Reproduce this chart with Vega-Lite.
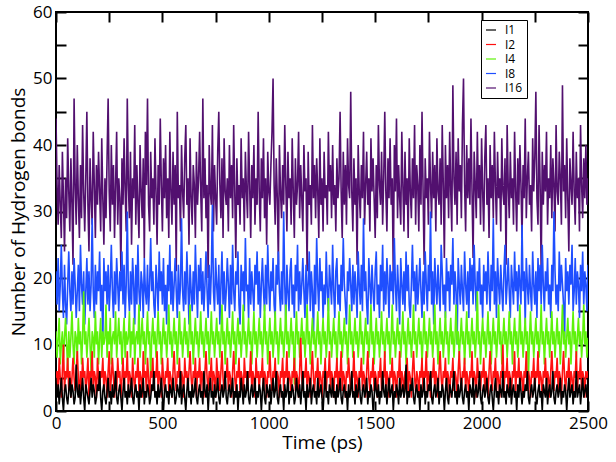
{
"$schema":"https://vega.github.io/schema/vega-lite/v6.json",
"width":532,"height":399,
"autosize":"none",
"padding":{"left":56,"top":12,"right":28,"bottom":51},
"background":"white",
"config":{"view":{"stroke":"black","strokeWidth":2},"font":"Open Sans"},
"data":{"values":[
{"t":0,"a":3,"b":5,"c":12,"d":21,"e":44},
{"t":5,"a":2,"b":6,"c":8,"d":16,"e":34},
{"t":10,"a":4,"b":3,"c":11,"d":23,"e":28},
{"t":15,"a":1,"b":8,"c":14,"d":15,"e":37},
{"t":20,"a":3,"b":5,"c":7,"d":19,"e":31},
{"t":25,"a":5,"b":2,"c":10,"d":25,"e":26},
{"t":30,"a":2,"b":6,"c":12,"d":18,"e":39},
{"t":35,"a":0,"b":10,"c":8,"d":14,"e":32},
{"t":40,"a":3,"b":3,"c":11,"d":22,"e":24},
{"t":45,"a":4,"b":6,"c":14,"d":16,"e":35},
{"t":50,"a":2,"b":5,"c":10,"d":13,"e":29},
{"t":55,"a":1,"b":8,"c":6,"d":19,"e":41},
{"t":60,"a":3,"b":3,"c":12,"d":24,"e":33},
{"t":65,"a":5,"b":6,"c":8,"d":18,"e":27},
{"t":70,"a":2,"b":2,"c":11,"d":15,"e":38},
{"t":75,"a":4,"b":5,"c":15,"d":21,"e":31},
{"t":80,"a":3,"b":8,"c":10,"d":16,"e":22},
{"t":85,"a":1,"b":5,"c":7,"d":23,"e":47},
{"t":90,"a":2,"b":3,"c":12,"d":19,"e":34},
{"t":95,"a":7,"b":6,"c":11,"d":14,"e":28},
{"t":100,"a":3,"b":9,"c":8,"d":18,"e":40},
{"t":105,"a":2,"b":5,"c":14,"d":22,"e":32},
{"t":110,"a":4,"b":2,"c":10,"d":15,"e":26},
{"t":115,"a":1,"b":6,"c":12,"d":25,"e":37},
{"t":120,"a":3,"b":3,"c":7,"d":19,"e":29},
{"t":125,"a":5,"b":8,"c":11,"d":16,"e":43},
{"t":130,"a":2,"b":5,"c":18,"d":21,"e":33},
{"t":135,"a":0,"b":6,"c":10,"d":13,"e":27},
{"t":140,"a":4,"b":3,"c":12,"d":18,"e":35},
{"t":145,"a":3,"b":5,"c":8,"d":23,"e":45},
{"t":150,"a":2,"b":8,"c":11,"d":16,"e":31},
{"t":155,"a":1,"b":2,"c":14,"d":21,"e":24},
{"t":160,"a":3,"b":6,"c":10,"d":15,"e":38},
{"t":165,"a":5,"b":5,"c":6,"d":19,"e":32},
{"t":170,"a":2,"b":9,"c":12,"d":29,"e":28},
{"t":175,"a":4,"b":3,"c":11,"d":18,"e":42},
{"t":180,"a":3,"b":6,"c":8,"d":14,"e":34},
{"t":185,"a":1,"b":5,"c":15,"d":22,"e":26},
{"t":190,"a":2,"b":2,"c":10,"d":16,"e":37},
{"t":195,"a":4,"b":8,"c":12,"d":21,"e":31},
{"t":200,"a":3,"b":5,"c":7,"d":18,"e":39},
{"t":205,"a":6,"b":3,"c":11,"d":24,"e":33},
{"t":210,"a":2,"b":6,"c":14,"d":15,"e":27},
{"t":215,"a":0,"b":5,"c":8,"d":19,"e":41},
{"t":220,"a":3,"b":8,"c":12,"d":10,"e":32},
{"t":225,"a":4,"b":3,"c":10,"d":23,"e":25},
{"t":230,"a":2,"b":6,"c":11,"d":18,"e":35},
{"t":235,"a":1,"b":5,"c":16,"d":21,"e":29},
{"t":240,"a":3,"b":2,"c":8,"d":16,"e":38},
{"t":245,"a":5,"b":6,"c":12,"d":22,"e":47},
{"t":250,"a":2,"b":9,"c":10,"d":15,"e":33},
{"t":255,"a":3,"b":3,"c":14,"d":19,"e":27},
{"t":260,"a":1,"b":5,"c":7,"d":25,"e":40},
{"t":265,"a":4,"b":8,"c":11,"d":18,"e":31},
{"t":270,"a":2,"b":5,"c":12,"d":14,"e":37},
{"t":275,"a":3,"b":2,"c":10,"d":21,"e":26},
{"t":280,"a":6,"b":6,"c":15,"d":16,"e":34},
{"t":285,"a":2,"b":3,"c":8,"d":23,"e":42},
{"t":290,"a":1,"b":8,"c":11,"d":19,"e":28},
{"t":295,"a":3,"b":5,"c":14,"d":15,"e":35},
{"t":300,"a":4,"b":6,"c":10,"d":21,"e":32},
{"t":305,"a":2,"b":2,"c":12,"d":18,"e":21},
{"t":310,"a":0,"b":5,"c":7,"d":24,"e":38},
{"t":315,"a":3,"b":8,"c":11,"d":16,"e":31},
{"t":320,"a":5,"b":3,"c":14,"d":22,"e":41},
{"t":325,"a":2,"b":6,"c":8,"d":14,"e":33},
{"t":330,"a":3,"b":5,"c":12,"d":19,"e":27},
{"t":335,"a":1,"b":9,"c":10,"d":30,"e":47},
{"t":340,"a":4,"b":3,"c":11,"d":18,"e":34},
{"t":345,"a":2,"b":6,"c":15,"d":15,"e":29},
{"t":350,"a":3,"b":5,"c":8,"d":21,"e":39},
{"t":355,"a":5,"b":2,"c":12,"d":16,"e":25},
{"t":360,"a":2,"b":8,"c":10,"d":23,"e":35},
{"t":365,"a":1,"b":5,"c":14,"d":19,"e":32},
{"t":370,"a":3,"b":3,"c":7,"d":13,"e":43},
{"t":375,"a":4,"b":6,"c":11,"d":22,"e":28},
{"t":380,"a":2,"b":5,"c":12,"d":16,"e":37},
{"t":385,"a":3,"b":8,"c":10,"d":25,"e":31},
{"t":390,"a":0,"b":3,"c":16,"d":18,"e":26},
{"t":395,"a":4,"b":6,"c":8,"d":15,"e":40},
{"t":400,"a":2,"b":5,"c":11,"d":21,"e":33},
{"t":405,"a":3,"b":2,"c":14,"d":19,"e":29},
{"t":410,"a":5,"b":9,"c":10,"d":14,"e":38},
{"t":415,"a":1,"b":5,"c":12,"d":23,"e":23},
{"t":420,"a":3,"b":6,"c":7,"d":18,"e":42},
{"t":425,"a":2,"b":3,"c":11,"d":16,"e":34},
{"t":430,"a":4,"b":8,"c":15,"d":22,"e":47},
{"t":435,"a":3,"b":5,"c":10,"d":15,"e":31},
{"t":440,"a":1,"b":2,"c":12,"d":19,"e":27},
{"t":445,"a":2,"b":6,"c":5,"d":26,"e":39},
{"t":450,"a":4,"b":5,"c":11,"d":18,"e":32},
{"t":455,"a":3,"b":8,"c":14,"d":21,"e":35},
{"t":460,"a":6,"b":3,"c":10,"d":16,"e":28},
{"t":465,"a":2,"b":6,"c":12,"d":14,"e":41},
{"t":470,"a":3,"b":5,"c":8,"d":22,"e":33},
{"t":475,"a":1,"b":9,"c":11,"d":19,"e":25},
{"t":480,"a":4,"b":3,"c":15,"d":15,"e":37},
{"t":485,"a":2,"b":6,"c":10,"d":24,"e":31},
{"t":490,"a":3,"b":5,"c":12,"d":18,"e":44},
{"t":495,"a":5,"b":2,"c":7,"d":21,"e":34},
{"t":500,"a":2,"b":8,"c":11,"d":16,"e":27},
{"t":505,"a":0,"b":5,"c":14,"d":23,"e":38},
{"t":510,"a":3,"b":3,"c":10,"d":15,"e":32},
{"t":515,"a":4,"b":6,"c":12,"d":19,"e":40},
{"t":520,"a":2,"b":5,"c":8,"d":13,"e":29},
{"t":525,"a":3,"b":8,"c":11,"d":22,"e":35},
{"t":530,"a":1,"b":3,"c":16,"d":18,"e":26},
{"t":535,"a":4,"b":6,"c":10,"d":25,"e":42},
{"t":540,"a":3,"b":5,"c":12,"d":16,"e":33},
{"t":545,"a":2,"b":2,"c":8,"d":21,"e":28},
{"t":550,"a":5,"b":6,"c":11,"d":15,"e":39},
{"t":555,"a":3,"b":9,"c":14,"d":19,"e":31},
{"t":560,"a":1,"b":5,"c":10,"d":23,"e":37},
{"t":565,"a":2,"b":3,"c":12,"d":18,"e":21},
{"t":570,"a":4,"b":6,"c":7,"d":14,"e":45},
{"t":575,"a":3,"b":5,"c":11,"d":22,"e":32},
{"t":580,"a":2,"b":8,"c":15,"d":16,"e":34},
{"t":585,"a":6,"b":3,"c":10,"d":19,"e":27},
{"t":590,"a":1,"b":6,"c":12,"d":29,"e":40},
{"t":595,"a":3,"b":5,"c":8,"d":18,"e":33},
{"t":600,"a":4,"b":2,"c":11,"d":15,"e":29},
{"t":605,"a":2,"b":8,"c":14,"d":21,"e":38},
{"t":610,"a":0,"b":5,"c":10,"d":16,"e":43},
{"t":615,"a":3,"b":6,"c":12,"d":24,"e":31},
{"t":620,"a":5,"b":3,"c":8,"d":19,"e":35},
{"t":625,"a":2,"b":6,"c":11,"d":13,"e":25},
{"t":630,"a":3,"b":9,"c":16,"d":22,"e":41},
{"t":635,"a":1,"b":5,"c":10,"d":18,"e":32},
{"t":640,"a":4,"b":3,"c":12,"d":15,"e":28},
{"t":645,"a":2,"b":6,"c":7,"d":21,"e":37},
{"t":650,"a":3,"b":5,"c":11,"d":16,"e":34},
{"t":655,"a":5,"b":8,"c":14,"d":25,"e":26},
{"t":660,"a":2,"b":2,"c":10,"d":19,"e":39},
{"t":665,"a":1,"b":6,"c":12,"d":14,"e":31},
{"t":670,"a":3,"b":5,"c":8,"d":22,"e":35},
{"t":675,"a":4,"b":8,"c":11,"d":18,"e":42},
{"t":680,"a":2,"b":3,"c":15,"d":23,"e":33},
{"t":685,"a":3,"b":6,"c":10,"d":16,"e":27},
{"t":690,"a":1,"b":5,"c":12,"d":21,"e":47},
{"t":695,"a":6,"b":2,"c":8,"d":15,"e":32},
{"t":700,"a":3,"b":6,"c":11,"d":19,"e":38},
{"t":705,"a":2,"b":9,"c":14,"d":24,"e":29},
{"t":710,"a":4,"b":5,"c":10,"d":18,"e":34},
{"t":715,"a":0,"b":3,"c":12,"d":14,"e":20},
{"t":720,"a":3,"b":6,"c":7,"d":22,"e":40},
{"t":725,"a":5,"b":5,"c":11,"d":16,"e":33},
{"t":730,"a":2,"b":8,"c":15,"d":21,"e":31},
{"t":735,"a":3,"b":3,"c":10,"d":31,"e":43},
{"t":740,"a":1,"b":6,"c":12,"d":18,"e":27},
{"t":745,"a":4,"b":5,"c":8,"d":15,"e":37},
{"t":750,"a":2,"b":2,"c":11,"d":23,"e":32},
{"t":755,"a":3,"b":8,"c":14,"d":19,"e":28},
{"t":760,"a":5,"b":5,"c":10,"d":16,"e":39},
{"t":765,"a":2,"b":6,"c":12,"d":22,"e":45},
{"t":770,"a":1,"b":3,"c":8,"d":13,"e":34},
{"t":775,"a":3,"b":6,"c":11,"d":19,"e":29},
{"t":780,"a":4,"b":9,"c":16,"d":24,"e":38},
{"t":785,"a":2,"b":5,"c":10,"d":16,"e":26},
{"t":790,"a":3,"b":3,"c":12,"d":21,"e":41},
{"t":795,"a":6,"b":6,"c":7,"d":15,"e":33},
{"t":800,"a":2,"b":5,"c":11,"d":18,"e":31},
{"t":805,"a":1,"b":8,"c":14,"d":23,"e":35},
{"t":810,"a":3,"b":3,"c":10,"d":19,"e":27},
{"t":815,"a":4,"b":6,"c":12,"d":14,"e":40},
{"t":820,"a":2,"b":5,"c":8,"d":22,"e":32},
{"t":825,"a":3,"b":2,"c":11,"d":16,"e":37},
{"t":830,"a":5,"b":6,"c":15,"d":25,"e":29},
{"t":835,"a":1,"b":9,"c":10,"d":18,"e":43},
{"t":840,"a":3,"b":5,"c":12,"d":15,"e":33},
{"t":845,"a":2,"b":3,"c":7,"d":21,"e":23},
{"t":850,"a":4,"b":6,"c":11,"d":19,"e":38},
{"t":855,"a":0,"b":5,"c":14,"d":24,"e":31},
{"t":860,"a":3,"b":8,"c":10,"d":16,"e":34},
{"t":865,"a":2,"b":3,"c":12,"d":13,"e":28},
{"t":870,"a":5,"b":6,"c":8,"d":22,"e":41},
{"t":875,"a":3,"b":5,"c":11,"d":18,"e":32},
{"t":880,"a":1,"b":2,"c":16,"d":21,"e":35},
{"t":885,"a":4,"b":8,"c":10,"d":15,"e":27},
{"t":890,"a":2,"b":5,"c":12,"d":26,"e":39},
{"t":895,"a":3,"b":6,"c":8,"d":18,"e":33},
{"t":900,"a":6,"b":3,"c":11,"d":19,"e":29},
{"t":905,"a":2,"b":6,"c":14,"d":14,"e":42},
{"t":910,"a":1,"b":5,"c":10,"d":23,"e":34},
{"t":915,"a":3,"b":9,"c":12,"d":16,"e":26},
{"t":920,"a":4,"b":3,"c":7,"d":21,"e":37},
{"t":925,"a":2,"b":6,"c":11,"d":18,"e":32},
{"t":930,"a":3,"b":5,"c":15,"d":15,"e":40},
{"t":935,"a":5,"b":2,"c":10,"d":22,"e":28},
{"t":940,"a":1,"b":8,"c":12,"d":19,"e":35},
{"t":945,"a":3,"b":5,"c":8,"d":24,"e":31},
{"t":950,"a":2,"b":6,"c":11,"d":16,"e":45},
{"t":955,"a":4,"b":3,"c":14,"d":21,"e":33},
{"t":960,"a":3,"b":6,"c":10,"d":14,"e":27},
{"t":965,"a":0,"b":5,"c":12,"d":19,"e":38},
{"t":970,"a":3,"b":8,"c":8,"d":23,"e":32},
{"t":975,"a":5,"b":3,"c":11,"d":18,"e":41},
{"t":980,"a":2,"b":6,"c":16,"d":15,"e":29},
{"t":985,"a":1,"b":5,"c":10,"d":22,"e":35},
{"t":990,"a":4,"b":2,"c":12,"d":16,"e":25},
{"t":995,"a":3,"b":6,"c":7,"d":25,"e":39},
{"t":1000,"a":2,"b":5,"c":11,"d":19,"e":33},
{"t":1005,"a":4,"b":9,"c":14,"d":15,"e":31},
{"t":1010,"a":1,"b":5,"c":10,"d":21,"e":37},
{"t":1015,"a":3,"b":3,"c":12,"d":18,"e":42},
{"t":1020,"a":5,"b":6,"c":8,"d":23,"e":50},
{"t":1025,"a":2,"b":5,"c":11,"d":16,"e":34},
{"t":1030,"a":3,"b":8,"c":15,"d":14,"e":28},
{"t":1035,"a":6,"b":3,"c":10,"d":22,"e":38},
{"t":1040,"a":2,"b":6,"c":12,"d":19,"e":32},
{"t":1045,"a":1,"b":5,"c":7,"d":24,"e":22},
{"t":1050,"a":3,"b":2,"c":11,"d":18,"e":40},
{"t":1055,"a":4,"b":6,"c":14,"d":15,"e":33},
{"t":1060,"a":2,"b":5,"c":10,"d":21,"e":29},
{"t":1065,"a":3,"b":8,"c":12,"d":16,"e":37},
{"t":1070,"a":0,"b":3,"c":8,"d":30,"e":31},
{"t":1075,"a":4,"b":6,"c":11,"d":19,"e":43},
{"t":1080,"a":2,"b":5,"c":16,"d":13,"e":34},
{"t":1085,"a":3,"b":9,"c":10,"d":22,"e":27},
{"t":1090,"a":5,"b":3,"c":12,"d":18,"e":39},
{"t":1095,"a":1,"b":6,"c":8,"d":15,"e":32},
{"t":1100,"a":3,"b":5,"c":11,"d":21,"e":35},
{"t":1105,"a":2,"b":2,"c":14,"d":23,"e":28},
{"t":1110,"a":4,"b":6,"c":10,"d":16,"e":41},
{"t":1115,"a":3,"b":5,"c":12,"d":19,"e":33},
{"t":1120,"a":1,"b":8,"c":4,"d":14,"e":26},
{"t":1125,"a":2,"b":3,"c":11,"d":22,"e":38},
{"t":1130,"a":5,"b":6,"c":15,"d":18,"e":31},
{"t":1135,"a":3,"b":5,"c":10,"d":25,"e":34},
{"t":1140,"a":2,"b":2,"c":12,"d":15,"e":42},
{"t":1145,"a":4,"b":6,"c":8,"d":21,"e":29},
{"t":1150,"a":1,"b":11,"c":11,"d":16,"e":37},
{"t":1155,"a":3,"b":5,"c":14,"d":19,"e":32},
{"t":1160,"a":6,"b":3,"c":10,"d":23,"e":27},
{"t":1165,"a":2,"b":6,"c":12,"d":18,"e":40},
{"t":1170,"a":3,"b":5,"c":8,"d":14,"e":33},
{"t":1175,"a":0,"b":8,"c":11,"d":22,"e":35},
{"t":1180,"a":4,"b":3,"c":16,"d":16,"e":21},
{"t":1185,"a":2,"b":6,"c":10,"d":19,"e":39},
{"t":1190,"a":3,"b":5,"c":12,"d":24,"e":31},
{"t":1195,"a":5,"b":2,"c":7,"d":15,"e":34},
{"t":1200,"a":1,"b":6,"c":11,"d":21,"e":28},
{"t":1205,"a":3,"b":9,"c":14,"d":18,"e":43},
{"t":1210,"a":4,"b":5,"c":10,"d":11,"e":32},
{"t":1215,"a":2,"b":3,"c":12,"d":22,"e":37},
{"t":1220,"a":3,"b":6,"c":8,"d":16,"e":29},
{"t":1225,"a":1,"b":5,"c":11,"d":26,"e":38},
{"t":1230,"a":5,"b":8,"c":15,"d":19,"e":33},
{"t":1235,"a":2,"b":3,"c":10,"d":15,"e":26},
{"t":1240,"a":3,"b":6,"c":12,"d":23,"e":41},
{"t":1245,"a":4,"b":5,"c":7,"d":18,"e":31},
{"t":1250,"a":2,"b":2,"c":11,"d":21,"e":35},
{"t":1255,"a":0,"b":6,"c":14,"d":14,"e":27},
{"t":1260,"a":3,"b":5,"c":10,"d":19,"e":39},
{"t":1265,"a":6,"b":8,"c":12,"d":16,"e":32},
{"t":1270,"a":2,"b":3,"c":8,"d":24,"e":34},
{"t":1275,"a":3,"b":6,"c":11,"d":18,"e":28},
{"t":1280,"a":1,"b":5,"c":17,"d":15,"e":42},
{"t":1285,"a":4,"b":9,"c":10,"d":22,"e":33},
{"t":1290,"a":3,"b":3,"c":12,"d":19,"e":37},
{"t":1295,"a":2,"b":6,"c":8,"d":16,"e":29},
{"t":1300,"a":5,"b":5,"c":11,"d":25,"e":40},
{"t":1305,"a":2,"b":2,"c":14,"d":18,"e":31},
{"t":1310,"a":3,"b":6,"c":10,"d":14,"e":34},
{"t":1315,"a":1,"b":5,"c":12,"d":21,"e":27},
{"t":1320,"a":4,"b":8,"c":7,"d":23,"e":38},
{"t":1325,"a":2,"b":3,"c":11,"d":16,"e":32},
{"t":1330,"a":3,"b":6,"c":15,"d":19,"e":35},
{"t":1335,"a":5,"b":5,"c":10,"d":15,"e":45},
{"t":1340,"a":2,"b":9,"c":12,"d":22,"e":33},
{"t":1345,"a":1,"b":3,"c":8,"d":18,"e":26},
{"t":1350,"a":3,"b":6,"c":11,"d":26,"e":39},
{"t":1355,"a":4,"b":5,"c":14,"d":19,"e":31},
{"t":1360,"a":2,"b":2,"c":10,"d":16,"e":37},
{"t":1365,"a":3,"b":6,"c":12,"d":13,"e":28},
{"t":1370,"a":0,"b":5,"c":7,"d":21,"e":41},
{"t":1375,"a":4,"b":8,"c":11,"d":18,"e":34},
{"t":1380,"a":2,"b":5,"c":16,"d":23,"e":32},
{"t":1385,"a":3,"b":3,"c":10,"d":19,"e":48},
{"t":1390,"a":6,"b":6,"c":12,"d":15,"e":33},
{"t":1395,"a":2,"b":5,"c":8,"d":22,"e":27},
{"t":1400,"a":3,"b":9,"c":11,"d":16,"e":38},
{"t":1405,"a":1,"b":3,"c":14,"d":21,"e":31},
{"t":1410,"a":4,"b":6,"c":10,"d":18,"e":35},
{"t":1415,"a":2,"b":5,"c":12,"d":14,"e":22},
{"t":1420,"a":3,"b":2,"c":8,"d":24,"e":40},
{"t":1425,"a":5,"b":6,"c":11,"d":19,"e":33},
{"t":1430,"a":2,"b":5,"c":15,"d":16,"e":29},
{"t":1435,"a":1,"b":8,"c":10,"d":22,"e":37},
{"t":1440,"a":3,"b":3,"c":12,"d":15,"e":32},
{"t":1445,"a":4,"b":6,"c":7,"d":29,"e":42},
{"t":1450,"a":2,"b":5,"c":11,"d":18,"e":28},
{"t":1455,"a":3,"b":2,"c":14,"d":21,"e":34},
{"t":1460,"a":5,"b":6,"c":10,"d":16,"e":39},
{"t":1465,"a":1,"b":9,"c":12,"d":13,"e":31},
{"t":1470,"a":3,"b":5,"c":8,"d":23,"e":35},
{"t":1475,"a":2,"b":3,"c":11,"d":19,"e":27},
{"t":1480,"a":4,"b":6,"c":16,"d":16,"e":41},
{"t":1485,"a":3,"b":5,"c":10,"d":22,"e":33},
{"t":1490,"a":0,"b":8,"c":12,"d":18,"e":38},
{"t":1495,"a":2,"b":3,"c":7,"d":15,"e":32},
{"t":1500,"a":5,"b":6,"c":11,"d":21,"e":26},
{"t":1505,"a":3,"b":5,"c":14,"d":24,"e":37},
{"t":1510,"a":2,"b":2,"c":10,"d":16,"e":29},
{"t":1515,"a":4,"b":6,"c":12,"d":19,"e":43},
{"t":1520,"a":1,"b":5,"c":8,"d":14,"e":34},
{"t":1525,"a":3,"b":8,"c":11,"d":22,"e":31},
{"t":1530,"a":2,"b":3,"c":15,"d":18,"e":39},
{"t":1535,"a":6,"b":6,"c":10,"d":25,"e":28},
{"t":1540,"a":3,"b":5,"c":12,"d":15,"e":35},
{"t":1545,"a":2,"b":9,"c":8,"d":21,"e":45},
{"t":1550,"a":4,"b":3,"c":11,"d":16,"e":33},
{"t":1555,"a":1,"b":6,"c":14,"d":23,"e":27},
{"t":1560,"a":3,"b":5,"c":10,"d":19,"e":38},
{"t":1565,"a":5,"b":2,"c":12,"d":14,"e":32},
{"t":1570,"a":2,"b":6,"c":7,"d":22,"e":41},
{"t":1575,"a":3,"b":5,"c":11,"d":18,"e":31},
{"t":1580,"a":4,"b":8,"c":16,"d":21,"e":35},
{"t":1585,"a":0,"b":3,"c":10,"d":16,"e":20},
{"t":1590,"a":3,"b":6,"c":12,"d":26,"e":40},
{"t":1595,"a":2,"b":5,"c":8,"d":19,"e":33},
{"t":1600,"a":4,"b":2,"c":11,"d":15,"e":44},
{"t":1605,"a":3,"b":6,"c":14,"d":22,"e":29},
{"t":1610,"a":1,"b":5,"c":10,"d":18,"e":37},
{"t":1615,"a":5,"b":9,"c":12,"d":13,"e":32},
{"t":1620,"a":2,"b":3,"c":8,"d":23,"e":28},
{"t":1625,"a":3,"b":6,"c":11,"d":19,"e":42},
{"t":1630,"a":4,"b":5,"c":15,"d":16,"e":34},
{"t":1635,"a":2,"b":2,"c":10,"d":21,"e":27},
{"t":1640,"a":3,"b":6,"c":12,"d":15,"e":39},
{"t":1645,"a":7,"b":5,"c":7,"d":24,"e":31},
{"t":1650,"a":1,"b":8,"c":11,"d":18,"e":35},
{"t":1655,"a":3,"b":3,"c":14,"d":22,"e":26},
{"t":1660,"a":2,"b":6,"c":10,"d":16,"e":41},
{"t":1665,"a":4,"b":5,"c":12,"d":14,"e":33},
{"t":1670,"a":3,"b":2,"c":8,"d":19,"e":29},
{"t":1675,"a":5,"b":6,"c":11,"d":25,"e":38},
{"t":1680,"a":2,"b":9,"c":16,"d":18,"e":32},
{"t":1685,"a":1,"b":5,"c":10,"d":21,"e":43},
{"t":1690,"a":3,"b":3,"c":12,"d":15,"e":28},
{"t":1695,"a":4,"b":6,"c":8,"d":22,"e":37},
{"t":1700,"a":2,"b":5,"c":11,"d":16,"e":34},
{"t":1705,"a":3,"b":2,"c":14,"d":19,"e":27},
{"t":1710,"a":0,"b":6,"c":10,"d":23,"e":40},
{"t":1715,"a":4,"b":5,"c":12,"d":18,"e":31},
{"t":1720,"a":2,"b":8,"c":7,"d":14,"e":45},
{"t":1725,"a":3,"b":3,"c":11,"d":21,"e":33},
{"t":1730,"a":5,"b":6,"c":15,"d":16,"e":22},
{"t":1735,"a":1,"b":5,"c":10,"d":24,"e":38},
{"t":1740,"a":3,"b":9,"c":12,"d":19,"e":32},
{"t":1745,"a":2,"b":3,"c":8,"d":15,"e":35},
{"t":1750,"a":4,"b":6,"c":11,"d":22,"e":28},
{"t":1755,"a":3,"b":5,"c":14,"d":18,"e":42},
{"t":1760,"a":6,"b":2,"c":10,"d":30,"e":34},
{"t":1765,"a":2,"b":6,"c":12,"d":16,"e":29},
{"t":1770,"a":1,"b":5,"c":8,"d":21,"e":39},
{"t":1775,"a":3,"b":8,"c":11,"d":13,"e":32},
{"t":1780,"a":4,"b":3,"c":16,"d":23,"e":37},
{"t":1785,"a":2,"b":6,"c":10,"d":19,"e":27},
{"t":1790,"a":3,"b":5,"c":12,"d":16,"e":41},
{"t":1795,"a":5,"b":2,"c":7,"d":22,"e":33},
{"t":1800,"a":1,"b":6,"c":11,"d":18,"e":31},
{"t":1805,"a":3,"b":9,"c":14,"d":15,"e":38},
{"t":1810,"a":2,"b":5,"c":10,"d":25,"e":28},
{"t":1815,"a":4,"b":3,"c":12,"d":21,"e":43},
{"t":1820,"a":3,"b":6,"c":8,"d":16,"e":34},
{"t":1825,"a":0,"b":5,"c":11,"d":19,"e":23},
{"t":1830,"a":3,"b":8,"c":15,"d":14,"e":40},
{"t":1835,"a":5,"b":3,"c":10,"d":23,"e":32},
{"t":1840,"a":2,"b":6,"c":12,"d":18,"e":37},
{"t":1845,"a":1,"b":5,"c":7,"d":21,"e":29},
{"t":1850,"a":4,"b":2,"c":11,"d":15,"e":42},
{"t":1855,"a":3,"b":6,"c":14,"d":22,"e":33},
{"t":1860,"a":2,"b":5,"c":10,"d":19,"e":27},
{"t":1865,"a":4,"b":8,"c":12,"d":26,"e":49},
{"t":1870,"a":6,"b":3,"c":8,"d":16,"e":35},
{"t":1875,"a":2,"b":6,"c":11,"d":21,"e":31},
{"t":1880,"a":3,"b":5,"c":16,"d":18,"e":39},
{"t":1885,"a":1,"b":2,"c":10,"d":10,"e":28},
{"t":1890,"a":4,"b":6,"c":12,"d":23,"e":41},
{"t":1895,"a":2,"b":9,"c":8,"d":19,"e":33},
{"t":1900,"a":3,"b":5,"c":11,"d":16,"e":37},
{"t":1905,"a":5,"b":3,"c":14,"d":22,"e":29},
{"t":1910,"a":2,"b":6,"c":10,"d":18,"e":43},
{"t":1915,"a":1,"b":5,"c":12,"d":15,"e":50},
{"t":1920,"a":3,"b":8,"c":7,"d":24,"e":34},
{"t":1925,"a":4,"b":3,"c":11,"d":19,"e":27},
{"t":1930,"a":2,"b":6,"c":15,"d":16,"e":40},
{"t":1935,"a":3,"b":5,"c":10,"d":21,"e":32},
{"t":1940,"a":0,"b":2,"c":12,"d":14,"e":38},
{"t":1945,"a":4,"b":6,"c":8,"d":23,"e":31},
{"t":1950,"a":3,"b":5,"c":11,"d":18,"e":44},
{"t":1955,"a":2,"b":9,"c":14,"d":22,"e":33},
{"t":1960,"a":5,"b":3,"c":10,"d":16,"e":23},
{"t":1965,"a":1,"b":6,"c":12,"d":25,"e":39},
{"t":1970,"a":3,"b":5,"c":8,"d":19,"e":34},
{"t":1975,"a":4,"b":2,"c":11,"d":15,"e":29},
{"t":1980,"a":2,"b":8,"c":18,"d":21,"e":42},
{"t":1985,"a":3,"b":5,"c":10,"d":18,"e":32},
{"t":1990,"a":6,"b":6,"c":12,"d":23,"e":37},
{"t":1995,"a":2,"b":3,"c":7,"d":16,"e":28},
{"t":2000,"a":1,"b":6,"c":11,"d":19,"e":41},
{"t":2005,"a":3,"b":5,"c":14,"d":14,"e":33},
{"t":2010,"a":4,"b":8,"c":10,"d":22,"e":27},
{"t":2015,"a":2,"b":3,"c":12,"d":18,"e":38},
{"t":2020,"a":3,"b":6,"c":8,"d":21,"e":43},
{"t":2025,"a":5,"b":5,"c":11,"d":16,"e":31},
{"t":2030,"a":2,"b":2,"c":15,"d":24,"e":35},
{"t":2035,"a":1,"b":6,"c":10,"d":19,"e":26},
{"t":2040,"a":3,"b":9,"c":12,"d":15,"e":40},
{"t":2045,"a":4,"b":5,"c":7,"d":22,"e":32},
{"t":2050,"a":2,"b":3,"c":11,"d":18,"e":37},
{"t":2055,"a":0,"b":6,"c":14,"d":29,"e":29},
{"t":2060,"a":3,"b":5,"c":10,"d":16,"e":42},
{"t":2065,"a":5,"b":8,"c":12,"d":21,"e":34},
{"t":2070,"a":2,"b":3,"c":8,"d":14,"e":28},
{"t":2075,"a":3,"b":6,"c":11,"d":23,"e":39},
{"t":2080,"a":1,"b":5,"c":16,"d":19,"e":32},
{"t":2085,"a":4,"b":2,"c":10,"d":16,"e":35},
{"t":2090,"a":3,"b":6,"c":12,"d":22,"e":27},
{"t":2095,"a":2,"b":5,"c":7,"d":18,"e":41},
{"t":2100,"a":6,"b":10,"c":11,"d":15,"e":33},
{"t":2105,"a":2,"b":3,"c":14,"d":21,"e":31},
{"t":2110,"a":3,"b":6,"c":10,"d":25,"e":38},
{"t":2115,"a":1,"b":5,"c":12,"d":16,"e":22},
{"t":2120,"a":4,"b":8,"c":8,"d":19,"e":43},
{"t":2125,"a":3,"b":3,"c":11,"d":23,"e":34},
{"t":2130,"a":2,"b":6,"c":15,"d":18,"e":29},
{"t":2135,"a":5,"b":5,"c":10,"d":14,"e":39},
{"t":2140,"a":1,"b":2,"c":12,"d":22,"e":32},
{"t":2145,"a":3,"b":6,"c":7,"d":19,"e":35},
{"t":2150,"a":4,"b":5,"c":11,"d":16,"e":28},
{"t":2155,"a":2,"b":9,"c":14,"d":24,"e":42},
{"t":2160,"a":3,"b":3,"c":10,"d":18,"e":33},
{"t":2165,"a":0,"b":6,"c":12,"d":21,"e":27},
{"t":2170,"a":4,"b":5,"c":8,"d":15,"e":38},
{"t":2175,"a":2,"b":8,"c":11,"d":22,"e":31},
{"t":2180,"a":5,"b":3,"c":16,"d":19,"e":40},
{"t":2185,"a":3,"b":6,"c":10,"d":16,"e":34},
{"t":2190,"a":1,"b":5,"c":12,"d":28,"e":26},
{"t":2195,"a":3,"b":2,"c":8,"d":18,"e":37},
{"t":2200,"a":2,"b":6,"c":11,"d":21,"e":32},
{"t":2205,"a":4,"b":5,"c":14,"d":13,"e":44},
{"t":2210,"a":3,"b":9,"c":10,"d":23,"e":29},
{"t":2215,"a":6,"b":3,"c":12,"d":19,"e":35},
{"t":2220,"a":2,"b":6,"c":5,"d":16,"e":39},
{"t":2225,"a":1,"b":5,"c":11,"d":22,"e":31},
{"t":2230,"a":3,"b":2,"c":15,"d":18,"e":34},
{"t":2235,"a":4,"b":6,"c":10,"d":15,"e":27},
{"t":2240,"a":2,"b":5,"c":12,"d":24,"e":41},
{"t":2245,"a":3,"b":8,"c":8,"d":19,"e":33},
{"t":2250,"a":5,"b":3,"c":11,"d":16,"e":38},
{"t":2255,"a":2,"b":6,"c":14,"d":21,"e":48},
{"t":2260,"a":1,"b":5,"c":10,"d":14,"e":32},
{"t":2265,"a":3,"b":9,"c":12,"d":23,"e":28},
{"t":2270,"a":4,"b":3,"c":8,"d":18,"e":43},
{"t":2275,"a":2,"b":6,"c":11,"d":22,"e":34},
{"t":2280,"a":3,"b":5,"c":16,"d":16,"e":21},
{"t":2285,"a":0,"b":2,"c":10,"d":25,"e":39},
{"t":2290,"a":4,"b":6,"c":12,"d":19,"e":31},
{"t":2295,"a":3,"b":5,"c":7,"d":15,"e":37},
{"t":2300,"a":2,"b":8,"c":11,"d":21,"e":33},
{"t":2305,"a":5,"b":3,"c":14,"d":18,"e":42},
{"t":2310,"a":1,"b":6,"c":10,"d":23,"e":28},
{"t":2315,"a":3,"b":5,"c":12,"d":16,"e":35},
{"t":2320,"a":4,"b":2,"c":8,"d":19,"e":32},
{"t":2325,"a":2,"b":6,"c":11,"d":14,"e":40},
{"t":2330,"a":3,"b":9,"c":15,"d":22,"e":29},
{"t":2335,"a":6,"b":5,"c":10,"d":18,"e":38},
{"t":2340,"a":2,"b":3,"c":12,"d":30,"e":34},
{"t":2345,"a":1,"b":6,"c":8,"d":21,"e":27},
{"t":2350,"a":3,"b":5,"c":11,"d":16,"e":43},
{"t":2355,"a":4,"b":8,"c":14,"d":19,"e":33},
{"t":2360,"a":2,"b":3,"c":10,"d":15,"e":31},
{"t":2365,"a":3,"b":6,"c":12,"d":24,"e":39},
{"t":2370,"a":5,"b":5,"c":7,"d":18,"e":35},
{"t":2375,"a":1,"b":2,"c":11,"d":22,"e":28},
{"t":2380,"a":3,"b":6,"c":16,"d":19,"e":49},
{"t":2385,"a":2,"b":9,"c":10,"d":16,"e":33},
{"t":2390,"a":4,"b":5,"c":12,"d":11,"e":37},
{"t":2395,"a":3,"b":3,"c":8,"d":23,"e":29},
{"t":2400,"a":0,"b":6,"c":11,"d":18,"e":41},
{"t":2405,"a":3,"b":5,"c":14,"d":21,"e":32},
{"t":2410,"a":5,"b":8,"c":10,"d":16,"e":24},
{"t":2415,"a":2,"b":3,"c":12,"d":22,"e":38},
{"t":2420,"a":3,"b":6,"c":7,"d":19,"e":34},
{"t":2425,"a":4,"b":5,"c":11,"d":25,"e":31},
{"t":2430,"a":1,"b":2,"c":15,"d":15,"e":42},
{"t":2435,"a":3,"b":6,"c":10,"d":18,"e":33},
{"t":2440,"a":2,"b":5,"c":12,"d":23,"e":28},
{"t":2445,"a":6,"b":9,"c":8,"d":16,"e":39},
{"t":2450,"a":2,"b":3,"c":11,"d":21,"e":32},
{"t":2455,"a":3,"b":6,"c":14,"d":19,"e":35},
{"t":2460,"a":4,"b":5,"c":10,"d":14,"e":27},
{"t":2465,"a":1,"b":8,"c":12,"d":22,"e":43},
{"t":2470,"a":3,"b":3,"c":8,"d":18,"e":34},
{"t":2475,"a":5,"b":6,"c":11,"d":24,"e":29},
{"t":2480,"a":2,"b":5,"c":16,"d":16,"e":38},
{"t":2485,"a":3,"b":2,"c":10,"d":21,"e":32},
{"t":2490,"a":4,"b":6,"c":12,"d":19,"e":40},
{"t":2495,"a":2,"b":5,"c":8,"d":15,"e":31},
{"t":2500,"a":3,"b":6,"c":11,"d":22,"e":35}
]},
"transform":[{"fold":["e","d","c","b","a"],"as":["s","v"]}],
"layer":[
{"mark":{"type":"line","strokeWidth":1.6,"clip":true},
 "encoding":{
  "x":{"field":"t","type":"quantitative","scale":{"domain":[0,2500],"nice":false,"zero":false},
   "axis":{"orient":"bottom","title":"Time (ps)","values":[0,250,500,750,1000,1250,1500,1750,2000,2250,2500],
    "labelExpr":"datum.value % 500 === 0 ? datum.label : ''","format":"d",
    "tickSize":-10,"labelPadding":14,
    "encode":{"ticks":{"update":{"y2":{"signal":"datum.value % 500 === 0 ? -10 : -5"}}}},
    "tickColor":"black","tickWidth":2,"domain":false,"grid":false,"labelOverlap":false,"labelFlush":false,
    "labelFontSize":17,"labelColor":"black","titleFontSize":19,"titleFontWeight":"normal","titleColor":"black","titlePadding":2}},
  "y":{"field":"v","type":"quantitative","scale":{"domain":[0,60],"nice":false,"zero":false},
   "axis":{"orient":"left","title":"Number of Hydrogen bonds","values":[0,5,10,15,20,25,30,35,40,45,50,55,60],
    "labelExpr":"datum.value % 10 === 0 ? datum.label : ''","format":"d",
    "tickSize":-10,"labelPadding":14,
    "encode":{"ticks":{"update":{"x2":{"signal":"datum.value % 10 === 0 ? 10 : 5"}}}},
    "tickColor":"black","tickWidth":2,"domain":false,"grid":false,"labelOverlap":false,"labelFlush":false,
    "labelFontSize":17,"labelColor":"black","titleFontSize":19,"titleFontWeight":"normal","titleColor":"black","titlePadding":4}},
  "color":{"field":"s","type":"nominal",
   "scale":{"domain":["a","b","c","d","e"],"range":["#000000","#ff1010","#5ef20a","#1f4fff","#52106f"]},
   "legend":{"orient":"none","legendX":425,"legendY":8,"title":null,"strokeColor":"black","fillColor":"white",
    "padding":4,"symbolType":"stroke","symbolSize":100,"symbolStrokeWidth":1.2,"labelFontSize":12,"labelColor":"black","rowPadding":2.5,
    "labelOffset":8,"labelBaseline":"middle",
    "labelExpr":"datum.label == 'a' ? 'I1' : datum.label == 'b' ? 'I2' : datum.label == 'c' ? 'I4' : datum.label == 'd' ? 'I8' : 'I16'"}}
 }},
{"mark":{"type":"line","opacity":0},
 "encoding":{
  "x":{"field":"t","type":"quantitative",
   "axis":{"orient":"top","title":null,"labels":false,"values":[0,250,500,750,1000,1250,1500,1750,2000,2250,2500],
    "tickSize":-10,"encode":{"ticks":{"update":{"y2":{"signal":"datum.value % 500 === 0 ? 10 : 5"}}}},
    "tickColor":"black","tickWidth":2,"domain":false,"grid":false}},
  "y":{"field":"v","type":"quantitative",
   "axis":{"orient":"right","title":null,"labels":false,"values":[0,5,10,15,20,25,30,35,40,45,50,55,60],
    "tickSize":-10,"encode":{"ticks":{"update":{"x2":{"signal":"datum.value % 10 === 0 ? -10 : -5"}}}},
    "tickColor":"black","tickWidth":2,"domain":false,"grid":false}},
  "detail":{"field":"s","type":"nominal"}
 }}
],
"resolve":{"axis":{"x":"independent","y":"independent"}}
}
